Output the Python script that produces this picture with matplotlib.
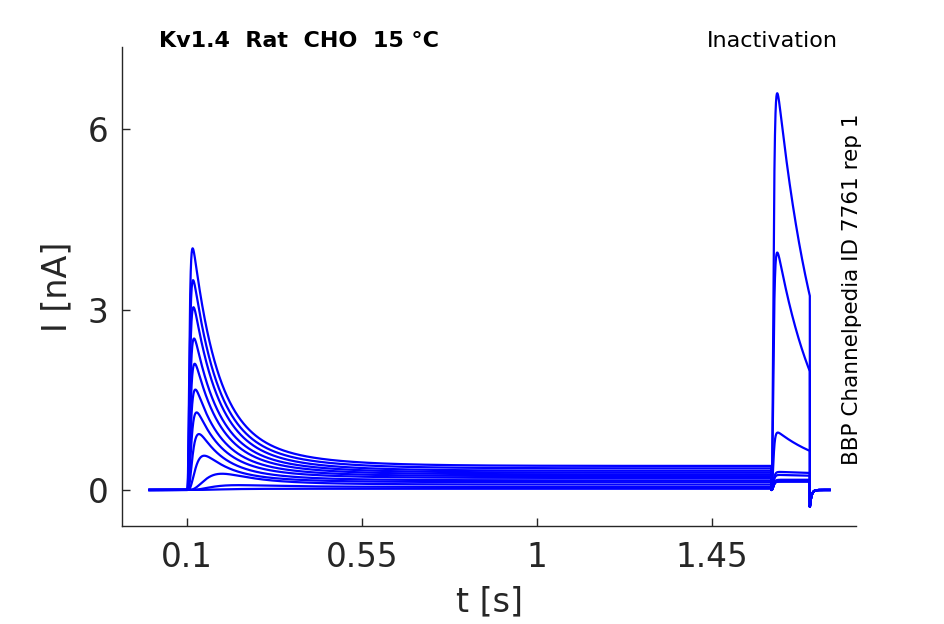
import numpy as np
import matplotlib
matplotlib.use("Agg")
import matplotlib.pyplot as plt

# ---- values (one entry per sweep) ----
# conditioning pulse 0.1 - 1.6 s
pre_peak = [4.02, 3.49, 3.04, 2.52, 2.10, 1.67, 1.29, 0.93, 0.57, 0.27, 0.08, 0.02]
pre_ss = [0.40, 0.36, 0.32, 0.29, 0.26, 0.23, 0.20, 0.16, 0.13, 0.09, 0.05, 0.02]
pre_tau_act = [0.003, 0.0033, 0.0036, 0.004, 0.0045, 0.005, 0.006, 0.008, 0.013, 0.035, 0.05, 0.05]
pre_tau_fast = 0.06
pre_tau_slow = 0.16
pre_frac_slow = 0.2
# test pulse 1.6 - 1.7 s
test_peak = [0.14, 0.14, 0.15, 0.15, 0.16, 0.16, 0.17, 0.25, 0.30, 0.955, 3.95, 6.60]
test_ss = [0.14, 0.14, 0.15, 0.15, 0.16, 0.16, 0.17, 0.22, 0.26, 0.25, 0.15, 0.20]
test_tau_inact = [0.12, 0.12, 0.12, 0.12, 0.12, 0.12, 0.12, 0.14, 0.14, 0.14, 0.11, 0.108]
test_tau_act = 0.003
# protocol times and tail
t_start, t_pre_on, t_test_on, t_test_off, t_end = 0.003, 0.1, 1.602, 1.701, 1.752
tail_min = -0.28
tail_tau = 0.004

xticks = [0.1, 0.55, 1, 1.45]
xtick_labels = ["0.1", "0.55", "1", "1.45"]
yticks = [0, 3, 6]
title_left = "Kv1.4  Rat  CHO  15 °C"
title_right = "Inactivation"
side_text = "BBP Channelpedia ID 7761 rep 1"

t = np.arange(t_start, t_end, 0.0002)


def pulse(dt, peak, ss, ta, decay):
    a = (1 - np.exp(-dt / ta)) ** 4
    amp = peak
    for _ in range(30):
        cur = a * ((amp - ss) * decay + ss)
        m = cur.max()
        if m <= 0 or abs(m - peak) < 1e-5:
            break
        k = np.argmax(cur)
        amp = ss + (amp - ss) * (peak - ss * a[k]) / max(m - ss * a[k], 1e-9)
    return a * ((amp - ss) * decay + ss)


traces = []
for i in range(len(pre_peak)):
    y = np.zeros_like(t)
    m1 = (t >= t_pre_on) & (t < t_test_on)
    dt1 = t[m1] - t_pre_on
    dec1 = (1 - pre_frac_slow) * np.exp(-dt1 / pre_tau_fast) + pre_frac_slow * np.exp(-dt1 / pre_tau_slow)
    y[m1] = pulse(dt1, pre_peak[i], pre_ss[i], pre_tau_act[i], dec1)
    m2 = (t >= t_test_on) & (t < t_test_off)
    dt2 = t[m2] - t_test_on
    dec2 = np.exp(-dt2 / test_tau_inact[i])
    y[m2] = pulse(dt2, test_peak[i], test_ss[i], test_tau_act, dec2)
    m3 = t >= t_test_off
    dt3 = t[m3] - t_test_off
    y[m3] = tail_min * np.exp(-dt3 / tail_tau)
    traces.append(y)

fig = plt.figure(figsize=(9.45, 6.24), dpi=100)
ax = fig.add_axes([0.1294, 0.157, 0.9058 - 0.1294, 0.9247 - 0.157])
for y in traces:
    ax.plot(t, y, color=(0.0, 0.0, 1.0), lw=1.6)

ax.set_xlim(-0.067, 1.8195)
ax.set_ylim(-0.6, 7.37)
ax.set_xticks(xticks)
ax.set_xticklabels(xtick_labels)
ax.set_yticks(yticks)
dark = "#262626"
for s in ["top", "right"]:
    ax.spines[s].set_visible(False)
for s in ["left", "bottom"]:
    ax.spines[s].set_color(dark)
    ax.spines[s].set_linewidth(1.0)
ax.tick_params(direction="in", length=6, width=1.0, colors=dark, labelsize=23.5)
ax.tick_params(axis="x", pad=11)
ax.tick_params(axis="y", pad=10)
ax.set_xlabel("t [s]", fontsize=24, color=dark)
ax.set_ylabel("I [nA]", fontsize=24, color=dark)
ax.xaxis.set_label_coords(0.5, -0.125)
ax.yaxis.set_label_coords(-0.066, 0.5)

fig.text(159 / 945, 1 - 47 / 624, title_left, fontsize=16, fontweight="bold",
         ha="left", va="baseline", color="black")
fig.text(838 / 945, 1 - 47 / 624, title_right, fontsize=16, ha="right",
         va="baseline", color="black")
fig.text(851.5 / 945, 1 - 289 / 624, side_text, fontsize=15.5, rotation=90,
         ha="center", va="center", color="black")

fig.savefig("out.png", dpi=100)
